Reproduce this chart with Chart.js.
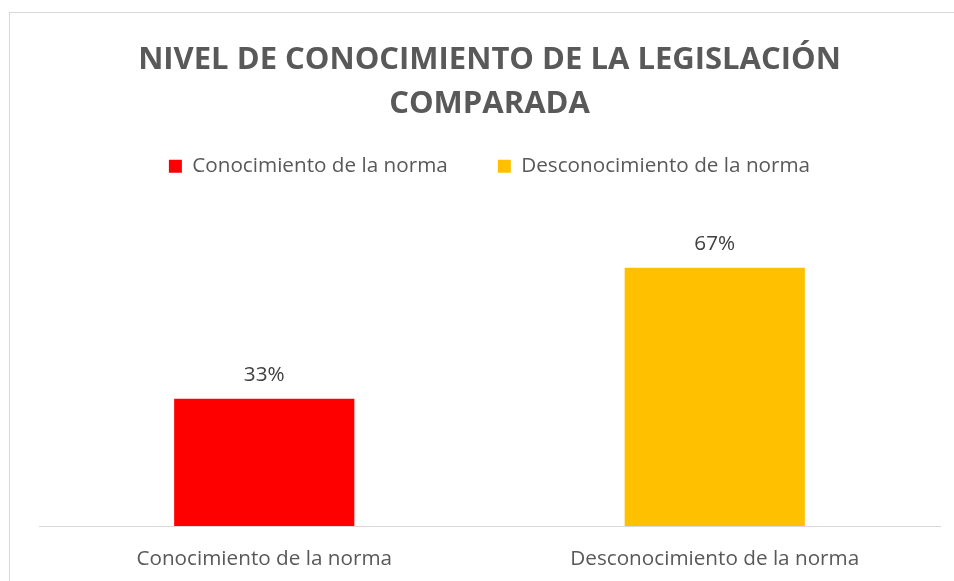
<!DOCTYPE html>
<html>
<head>
<meta charset="utf-8">
<script src="https://cdn.jsdelivr.net/npm/chart.js@4.4.1/dist/chart.umd.min.js"></script>
<style>
  html, body { margin: 0; padding: 0; background: #fff; overflow: hidden; }
  #frame { position: absolute; left: 9px; top: 12px; width: 980px; height: 620px; border: 1px solid #d9d9d9; }
  #chart { position: absolute; left: 0; top: 0; }
</style>
</head>
<body>
<div id="frame"></div>
<canvas id="chart" width="954" height="581"></canvas>
<script>
// --- datos ---
const categories = ["Conocimiento de la norma", "Desconocimiento de la norma"];
const values = [0.33, 0.67];
const colors = ["#FF0000", "#FFC000"];
const titleLines = ["NIVEL DE CONOCIMIENTO DE LA LEGISLACIÓN", "COMPARADA"];

Chart.defaults.font.family = "'Open Sans', sans-serif";
Chart.defaults.color = "#595959";

// etiquetas de porcentaje encima de cada barra
const barLabels = {
  id: "barLabels",
  afterDatasetsDraw(chart) {
    const ctx = chart.ctx;
    const meta = chart.getDatasetMeta(0);
    ctx.save();
    ctx.font = "20.7px 'Open Sans', sans-serif";
    ctx.fillStyle = "#404040";
    ctx.textAlign = "center";
    ctx.textBaseline = "middle";
    meta.data.forEach((bar, i) => {
      ctx.fillText(Math.round(values[i] * 100) + "%", bar.x, bar.y - 23.5);
    });
    ctx.restore();
  }
};

// un poco de aire debajo de la leyenda
const legendGap = {
  id: "legendGap",
  beforeUpdate(chart) {
    const lg = chart.legend;
    if (lg && !lg._gap) {
      const fit = lg.fit;
      lg.fit = function () { fit.call(this); this.height += 31; };
      lg._gap = true;
    }
  }
};

new Chart(document.querySelector("#chart"), {
  type: "bar",
  data: {
    labels: categories,
    datasets: [{
      data: values,
      backgroundColor: colors,
      barPercentage: 0.4,
      categoryPercentage: 1,
    }],
  },
  options: {
    responsive: false,
    animation: false,
    devicePixelRatio: 1,
    layout: { padding: { top: 38, left: 39, right: 14, bottom: 0 } },
    plugins: {
      title: {
        display: true,
        text: titleLines,
        color: "#595959",
        font: { size: 31, weight: "bold", lineHeight: "44px" },
        padding: { top: 0, bottom: -20 },
      },
      legend: {
        display: true,
        labels: {
          boxWidth: 13,
          boxHeight: 13,
          padding: 50,
          color: "#595959",
          font: { size: 20.7 },
          generateLabels: () => categories.map((c, i) => ({
            text: c, fillStyle: colors[i], strokeStyle: colors[i], lineWidth: 0,
            fontColor: "#595959", index: i,
          })),
        },
        onClick: null,
      },
      tooltip: { enabled: false },
    },
    scales: {
      x: {
        grid: { display: false, drawTicks: false },
        border: { color: "#d9d9d9", width: 1 },
        ticks: { padding: 21, color: "#595959", font: { size: 20.7 } },
        afterFit(scale) { scale.height = 55; },
      },
      y: { display: false, min: 0, max: 0.8 },
    },
  },
  plugins: [barLabels, legendGap],
});
</script>
</body>
</html>
